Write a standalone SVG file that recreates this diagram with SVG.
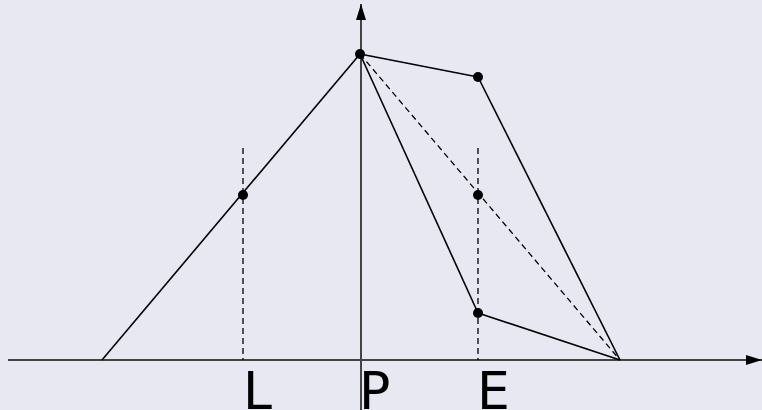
<svg xmlns="http://www.w3.org/2000/svg" width="762" height="410" viewBox="0 0 762 410">
<style>
.ax{stroke:#444;stroke-width:2;fill:none}
.ln{stroke:#000;stroke-width:1.6;fill:none}
.ds{stroke:#000;stroke-width:1.3;fill:none;stroke-dasharray:6,4}
.pt{fill:#000}
.lb{font-family:"DejaVu Sans",sans-serif;font-size:52px;fill:#000}
</style>
<defs>
<marker id="ah" viewBox="0 0 16 10" refX="16" refY="5" markerWidth="16" markerHeight="10" markerUnits="userSpaceOnUse" orient="auto"><path d="M0,0L16,5L0,10Z" fill="#000"/></marker>
</defs>
<rect width="762" height="410" fill="#e8e8f3"/>
<g id="axes">
<line class="ax" x1="8" y1="360" x2="762" y2="360" marker-end="url(#ah)"/>
<line class="ax" x1="361" y1="410" x2="361" y2="4" marker-end="url(#ah)"/>
</g>
<g id="connectors">
<line class="ln" x1="102" y1="360" x2="360" y2="54"/>
<line class="ln" x1="360" y1="54" x2="478" y2="77"/>
<line class="ln" x1="478" y1="77" x2="620" y2="360"/>
<line class="ln" x1="360" y1="54" x2="478" y2="313"/>
<line class="ln" x1="478" y1="313" x2="620" y2="360"/>
<line class="ds" x1="360" y1="54" x2="620" y2="360"/>
<line class="ds" x1="243" y1="148" x2="243" y2="360"/>
<line class="ds" x1="478" y1="148" x2="478" y2="360"/>
</g>
<g id="points">
<circle class="pt" cx="360" cy="54" r="5"/>
<circle class="pt" cx="478" cy="77" r="5"/>
<circle class="pt" cx="243" cy="195" r="5"/>
<circle class="pt" cx="478" cy="195" r="5"/>
<circle class="pt" cx="478" cy="313" r="5"/>
</g>
<g id="labels">
<text class="lb" x="243" y="409">L</text>
<text class="lb" x="359" y="409">P</text>
<text class="lb" x="477" y="409">E</text>
</g>
</svg>
